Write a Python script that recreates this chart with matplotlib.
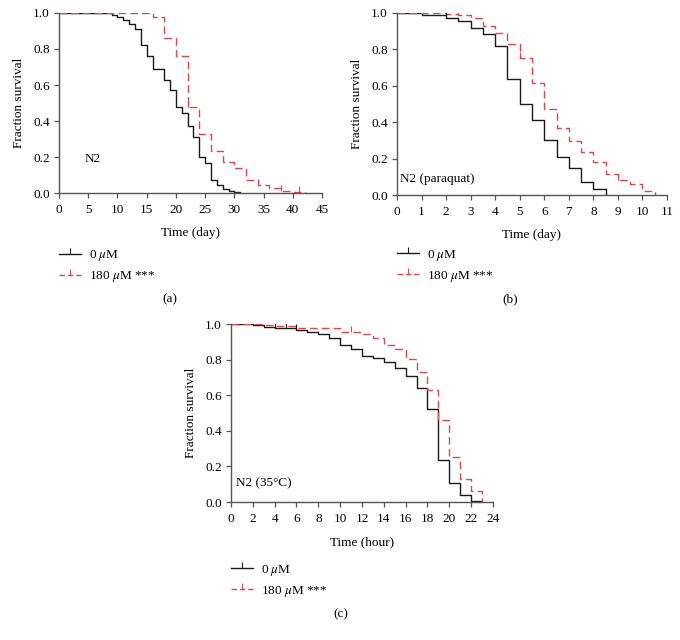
import matplotlib
matplotlib.use("Agg")
import matplotlib.pyplot as plt
from matplotlib.lines import Line2D
from matplotlib.markers import TICKUP
import numpy as np

plt.rcParams['font.family'] = ['Liberation Serif', 'DejaVu Serif']
plt.rcParams['mathtext.fontset'] = 'stix'

# ---- data (a): lifespan, days ----
a_ctrl_t = [0, 9, 10, 11, 12, 13, 14, 15, 16, 18, 19, 20, 21, 22, 23, 24, 25, 26, 27, 28, 29, 30, 31]
a_ctrl_s = [1.0, 0.99, 0.98, 0.96, 0.94, 0.91, 0.82, 0.76, 0.69, 0.63, 0.575, 0.48, 0.445, 0.37, 0.31, 0.20, 0.165, 0.07, 0.045, 0.02, 0.01, 0.004, 0.0]
a_trt_t = [0, 16, 18, 20, 22, 24, 26, 28, 30, 32, 34, 36, 38, 40, 42]
a_trt_s = [1.0, 0.975, 0.86, 0.76, 0.48, 0.33, 0.235, 0.175, 0.14, 0.073, 0.045, 0.026, 0.013, 0.006, 0.0]
a_ctrl_cens = [5.2]
a_trt_cens = [22.0, 28.0, 34.0, 38.0, 41.0]

# ---- data (b): paraquat, days ----
b_ctrl_t = [0, 1, 2, 2.5, 3, 3.5, 4, 4.5, 5, 5.5, 6, 6.5, 7, 7.5, 8, 8.5]
b_ctrl_s = [1.0, 0.99, 0.97, 0.958, 0.92, 0.885, 0.82, 0.64, 0.50, 0.41, 0.30, 0.21, 0.147, 0.073, 0.035, 0.0]
b_trt_t = [0, 2, 2.5, 3, 3.5, 4, 4.5, 5, 5.5, 6, 6.5, 7, 7.5, 8, 8.5, 9, 9.5, 10, 10.5]
b_trt_s = [1.0, 0.995, 0.99, 0.97, 0.93, 0.89, 0.83, 0.75, 0.615, 0.47, 0.367, 0.294, 0.235, 0.183, 0.116, 0.083, 0.059, 0.024, 0.0]
b_ctrl_cens = [2.0]
b_trt_cens = [2.5, 5.0, 9.0]

# ---- data (c): 35 C, hours ----
c_ctrl_t = [0, 2, 3, 4, 6, 7, 8, 9, 10, 11, 12, 13, 14, 15, 16, 17, 18, 19, 20, 21, 22, 23]
c_ctrl_s = [1.0, 0.994, 0.983, 0.976, 0.968, 0.955, 0.944, 0.92, 0.884, 0.86, 0.82, 0.81, 0.787, 0.755, 0.71, 0.64, 0.52, 0.234, 0.107, 0.041, 0.006, 0.0]
c_trt_t = [0, 3, 4, 6, 10, 12, 13, 14, 15, 16, 17, 18, 19, 20, 21, 22, 23]
c_trt_s = [1.0, 0.994, 0.987, 0.978, 0.953, 0.946, 0.92, 0.884, 0.86, 0.805, 0.73, 0.627, 0.46, 0.253, 0.13, 0.064, 0.0]
c_ctrl_cens = [2.0, 4.0, 5.0, 6.0]
c_trt_cens = [11.0]

legend_labels = ['0 $\\mu$M', '180 $\\mu$M ***']
BLACK = '#1a1a1a'
RED = '#e0474c'
DASH = (0, (5.5, 3))

fig = plt.figure(figsize=(6.8, 6.4), dpi=100)

panels = [
    dict(rect=[0.0868, 0.6984, 0.3868, 0.2813], ct=a_ctrl_t, cs=a_ctrl_s, tt=a_trt_t, ts=a_trt_s,
         cc=a_ctrl_cens, tc=a_trt_cens, xmax=45, xstep=5, xlabel='Time (day)',
         txt='N2', txy=(4.4, 0.19), cap='(a)', capxy=(0.25, 0.532), leg=(0.0, -0.308)),
    dict(rect=[0.5838, 0.6953, 0.397, 0.2844], ct=b_ctrl_t, cs=b_ctrl_s, tt=b_trt_t, ts=b_trt_s,
         cc=b_ctrl_cens, tc=b_trt_cens, xmax=11, xstep=1, xlabel='Time (day)',
         txt='N2 (paraquat)', txy=(0.14, 0.09), cap='(b)', capxy=(0.75, 0.532), leg=(0.0, -0.29)),
    dict(rect=[0.3397, 0.2156, 0.3853, 0.2781], ct=c_ctrl_t, cs=c_ctrl_s, tt=c_trt_t, ts=c_trt_s,
         cc=c_ctrl_cens, tc=c_trt_cens, xmax=24, xstep=2, xlabel='Time (hour)',
         txt='N2 (35°C)', txy=(0.45, 0.107), cap='(c)', capxy=(0.5015, 0.040), leg=(0.0, -0.342)),
]


def value_at(ts, ss, x):
    v = ss[0]
    for t, s in zip(ts, ss):
        if t <= x:
            v = s
    return v

for p in panels:
    ax = fig.add_axes(p['rect'])
    ax.step(p['ct'], p['cs'], where='post', color=BLACK, lw=1.0)
    ax.step(p['tt'], p['ts'], where='post', color=RED, lw=1.0, linestyle=DASH)
    ax.plot(p['cc'], [value_at(p['ct'], p['cs'], x) for x in p['cc']], linestyle='none',
            marker=TICKUP, ms=4, mew=0.8, color=BLACK)
    ax.plot(p['tc'], [value_at(p['tt'], p['ts'], x) for x in p['tc']], linestyle='none',
            marker=TICKUP, ms=4, mew=0.8, color=RED)
    ax.set_xlim(0, p['xmax'])
    ax.set_ylim(0, 1.0)
    ax.set_xticks(np.arange(0, p['xmax'] + 0.01, p['xstep']))
    ax.set_yticks([0.0, 0.2, 0.4, 0.6, 0.8, 1.0])
    ax.set_yticklabels(['0.0', '0.2', '0.4', '0.6', '0.8', '1.0'])
    for s in ['top', 'right']:
        ax.spines[s].set_visible(False)
    for s in ['left', 'bottom']:
        ax.spines[s].set_color('#555555')
        ax.spines[s].set_linewidth(1.0)
    ax.tick_params(direction='out', length=3.5, width=0.9, color='#555555', labelsize=9.5, pad=3)
    ax.tick_params(axis='x', pad=4.5)
    ax.set_xlabel(p['xlabel'], fontsize=9.5, labelpad=8)
    ax.set_ylabel('Fraction survival', fontsize=9.5, labelpad=6)
    ax.text(p['txy'][0], p['txy'][1], p['txt'], fontsize=9.5, ha='left', va='center')
    handles = [Line2D([0], [0], color=BLACK, lw=1.0, marker=TICKUP, ms=4, mew=0.8),
               Line2D([0], [0], color=RED, lw=1.0, linestyle=(0, (4, 2)), marker=TICKUP, ms=4, mew=0.8)]
    ax.legend(handles, legend_labels, loc='upper left', bbox_to_anchor=p['leg'], frameon=False,
              fontsize=9.5, numpoints=1, handlelength=1.7, handletextpad=0.6, labelspacing=0.45,
              borderaxespad=0.0, borderpad=0.0)
    fig.text(p['capxy'][0], p['capxy'][1], p['cap'], fontsize=9.5, ha='center', va='center')

fig.savefig('out.png', dpi=100)
